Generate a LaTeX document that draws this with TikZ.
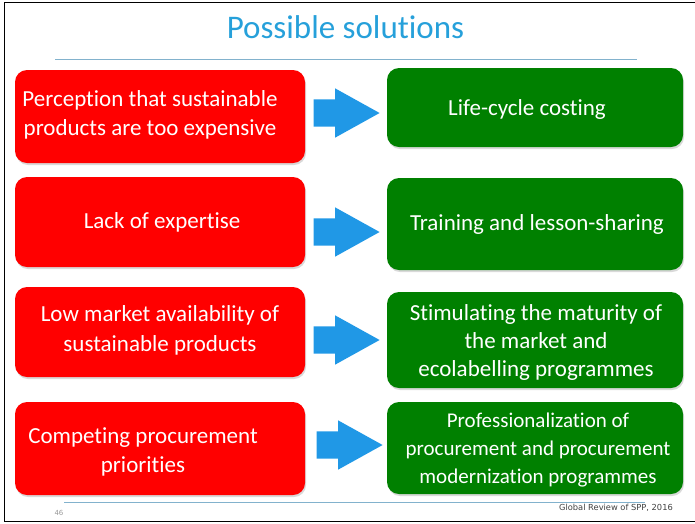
\documentclass[tikz,border=0pt]{standalone}
\usepackage{fontspec}
\setmainfont{Carlito}[Ligatures=NoCommon]
\newfontfamily\footfont{DejaVu Sans}
\usetikzlibrary{shapes.arrows,shadows}
\definecolor{ttlblue}{RGB}{38,160,218}
\definecolor{rulblue}{RGB}{130,178,205}
\definecolor{probred}{RGB}{255,0,0}
\definecolor{solgreen}{RGB}{0,128,0}
\definecolor{arrblue}{RGB}{32,152,230}
\tikzset{
	basebox/.style={rounded corners=12pt, inner sep=0pt, draw=none,
		drop shadow={shadow xshift=1pt, shadow yshift=-2pt, opacity=.3}},
	probbox/.style={basebox, fill=probred, minimum width=290pt},
	solbox/.style={basebox, fill=solgreen, minimum width=296pt},
	probtxt/.style={text=white, align=center, inner sep=0pt, font=\fontsize{23}{29.5}\selectfont},
	soltxt/.style={text=white, align=center, inner sep=0pt, font=\fontsize{#1}{28}\selectfont},
	solarrow/.style={single arrow, fill=arrblue, draw=none, inner xsep=0pt, inner ysep=13.5pt,
		minimum height=66pt, single arrow head extend=11pt, single arrow tip angle=58, anchor=tip},
	rule/.style={draw=rulblue, line width=0.8pt}
}
\begin{document}
\begin{tikzpicture}[x=1pt, y=-1pt]
	\useasboundingbox (0,0) rectangle (695,523);
	\draw[line width=1.5pt] (695,2.5)--(4.5,2.5)--(4.5,521.5)--(695,521.5);
	\node[font=\fontsize{33}{39}\selectfont, text=ttlblue, anchor=base, inner sep=0pt] (ttl) at (345.5,38) {Possible solutions};
	\draw[rule] (55,59)--(637,59);
	% problems
	\foreach \i/\yc/\h/\dx/\dy/\txt in {
		1/116.5/93/-10/-1.5/{Perception that sustainable\\products are too expensive},
		2/222/90/2/0/{Lack of expertise},
		3/332/90/0/-1.5/{Low market availability of\\sustainable products},
		4/448.5/93/-17/3.5/{Competing procurement\\priorities}}{
		\node[probbox, minimum height=\h pt] (r\i) at (160,\yc) {};
		\node[probtxt] (rt\i) at ([xshift=\dx pt, yshift=-\dy pt]r\i.center) {\txt};}
	% solutions
	\foreach \i/\yc/\h/\dx/\dy/\fs/\txt in {
		1/107.5/79/-8/1.5/23/{Life-cycle costing},
		2/224/92/2/0/23/{Training and lesson-sharing},
		3/340/96/1/2/23/{Stimulating the maturity of\\the market and\\ecolabelling programmes},
		4/448/92/3/2.5/21/{Professionalization of\\procurement and procurement\\modernization programmes}}{
		\node[solbox, minimum height=\h pt] (g\i) at (535,\yc) {};
		\node[soltxt=\fs] (gt\i) at ([xshift=\dx pt, yshift=-\dy pt]g\i.center) {\txt};}
	% arrows
	\foreach \i/\ax/\ay in {1/380/113,2/380/232,3/380/340,4/383/445}{
		\node[solarrow] (a\i) at (\ax,\ay) {};}
	\draw[rule] (64,502)--(645,502);
	\node[text=black!40, font=\footfont\fontsize{7}{8}\selectfont, inner sep=0pt] (pg) at (59,513) {46};
	\node[text=black!75, font=\footfont\fontsize{8.3}{10}\selectfont, anchor=east, inner sep=0pt] (src) at (673,508) {Global Review of SPP, 2016};
\end{tikzpicture}
\end{document}
